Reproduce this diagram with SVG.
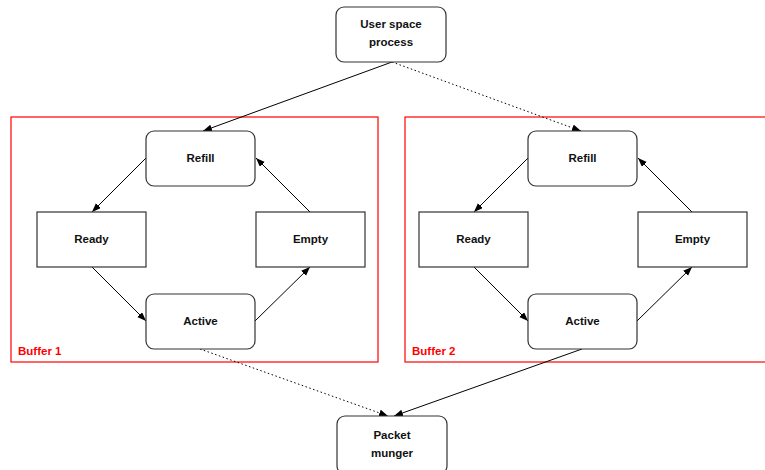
<svg xmlns="http://www.w3.org/2000/svg" width="765" height="470" viewBox="0 0 765 470">
  <style>
    .node { fill: #ffffff; stroke: #333333; stroke-width: 1.2; }
    .label { font-family: "Liberation Sans", Arial, Helvetica, sans-serif; font-size: 11.5px; font-weight: bold; fill: #111111; text-anchor: middle; }
    .frame { fill: none; stroke: #ff0000; stroke-width: 1.2; }
    .frame-label { font-family: "Liberation Sans", Arial, Helvetica, sans-serif; font-size: 11.5px; font-weight: bold; fill: #ff0000; }
    .edge { fill: none; stroke: #000000; stroke-width: 1; marker-end: url(#arrow); }
    .dotted { stroke-dasharray: 1.5 2.5; }
  </style>
  <defs>
    <marker id="arrow" markerUnits="userSpaceOnUse" markerWidth="10" markerHeight="8" refX="9" refY="3.5" orient="auto">
      <path d="M0,0 L9,3.5 L0,7 z" fill="#000000"/>
    </marker>
  </defs>
  <rect width="765" height="470" fill="#ffffff"/>

  <!-- buffer frames -->
  <g id="buffer1">
    <rect class="frame" x="11" y="117" width="367" height="245"/>
    <text class="frame-label" x="18" y="355">Buffer 1</text>
  </g>
  <g id="buffer2">
    <rect class="frame" x="405" y="117" width="370" height="245"/>
    <text class="frame-label" x="412" y="355">Buffer 2</text>
  </g>

  <!-- connectors -->
  <g id="connectors">
    <path class="edge" d="M392,62 L203,131"/>
    <path class="edge dotted" d="M392,62 L581,131"/>
    <!-- buffer 1 cycle -->
    <path class="edge" d="M146,158 L92,212"/>
    <path class="edge" d="M92,267 L146,321"/>
    <path class="edge" d="M255,321 L310,267"/>
    <path class="edge" d="M310,212 L256,158"/>
    <!-- buffer 2 cycle -->
    <path class="edge" d="M528,158 L474,212"/>
    <path class="edge" d="M474,267 L528,321"/>
    <path class="edge" d="M637,321 L692,267"/>
    <path class="edge" d="M692,212 L638,158"/>
    <!-- outputs to packet munger -->
    <path class="edge dotted" d="M200,349 L388,416"/>
    <path class="edge" d="M582,349 L394,416"/>
  </g>

  <!-- top process -->
  <g id="user-space-process">
    <rect class="node" x="336" y="7" width="110" height="55" rx="8"/>
    <text class="label" x="391" y="27.5">User space</text>
    <text class="label" x="391" y="45.5">process</text>
  </g>

  <!-- buffer 1 states -->
  <g id="b1-refill">
    <rect class="node" x="146" y="131" width="109" height="55" rx="8"/>
    <text class="label" x="200.5" y="162">Refill</text>
  </g>
  <g id="b1-ready">
    <rect class="node" x="37" y="212" width="109" height="55"/>
    <text class="label" x="91.5" y="243">Ready</text>
  </g>
  <g id="b1-empty">
    <rect class="node" x="256" y="212" width="109" height="55"/>
    <text class="label" x="310.5" y="243">Empty</text>
  </g>
  <g id="b1-active">
    <rect class="node" x="146" y="294" width="109" height="55" rx="8"/>
    <text class="label" x="200.5" y="325">Active</text>
  </g>

  <!-- buffer 2 states -->
  <g id="b2-refill">
    <rect class="node" x="528" y="131" width="109" height="55" rx="8"/>
    <text class="label" x="582.5" y="162">Refill</text>
  </g>
  <g id="b2-ready">
    <rect class="node" x="419" y="212" width="109" height="55"/>
    <text class="label" x="473.5" y="243">Ready</text>
  </g>
  <g id="b2-empty">
    <rect class="node" x="638" y="212" width="109" height="55"/>
    <text class="label" x="692.5" y="243">Empty</text>
  </g>
  <g id="b2-active">
    <rect class="node" x="528" y="294" width="109" height="55" rx="8"/>
    <text class="label" x="582.5" y="325">Active</text>
  </g>

  <!-- bottom process -->
  <g id="packet-munger">
    <rect class="node" x="337" y="416" width="110" height="58" rx="8"/>
    <text class="label" x="392" y="438.5">Packet</text>
    <text class="label" x="392" y="456.5">munger</text>
  </g>
</svg>
